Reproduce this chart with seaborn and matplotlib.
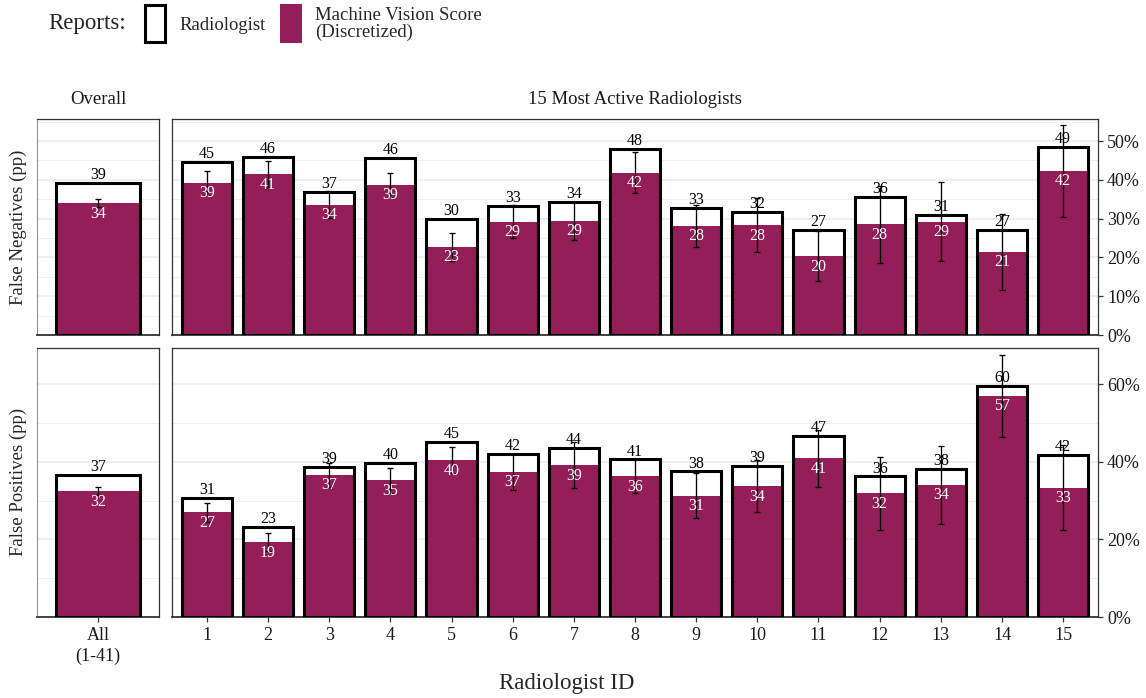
import numpy as np
import pandas as pd
import matplotlib
matplotlib.use("Agg")
import matplotlib.pyplot as plt
import seaborn as sns
from matplotlib.patches import Rectangle
from matplotlib.ticker import MultipleLocator, FuncFormatter

# ---- data (percentage points) ----
radiologist_ids = [str(i) for i in range(1, 16)]
overall_label = ["All\n(1-41)"]

fn_overall_rad = [39.3]
fn_overall_mv = [34.0]
fn_overall_err = [1.0]
fn_rad = [44.7, 46.0, 36.9, 45.6, 29.9, 33.3, 34.3, 47.9, 32.7, 31.7, 27.1, 35.6, 30.9, 27.1, 48.6]
fn_mv = [39.2, 41.4, 33.6, 38.7, 22.7, 29.2, 29.4, 41.9, 28.1, 28.3, 20.3, 28.5, 29.2, 21.4, 42.3]
fn_err = [3.0, 3.5, 3.5, 3.2, 3.5, 4.3, 5.0, 5.2, 5.3, 6.9, 6.4, 10.0, 10.2, 9.8, 11.8]

fp_overall_rad = [36.6]
fp_overall_mv = [32.4]
fp_overall_err = [1.0]
fp_rad = [30.6, 23.1, 38.6, 39.7, 45.2, 41.9, 43.5, 40.6, 37.5, 39.0, 46.6, 36.2, 38.2, 59.6, 41.7]
fp_mv = [27.0, 19.3, 36.6, 35.2, 40.4, 37.4, 39.1, 36.3, 31.2, 33.7, 40.9, 31.9, 34.0, 57.0, 33.3]
fp_err = [2.4, 2.3, 3.0, 3.3, 3.4, 4.7, 5.9, 4.3, 5.8, 6.7, 7.4, 9.4, 10.0, 10.5, 10.9]

PURPLE = "#931E58"
FRAME = "#333333"
GRID = "#EBEBEB"

sns.set_style("white")
plt.rcParams["font.family"] = ["Liberation Serif", "DejaVu Serif"]

W, H = 1146, 698
fig = plt.figure(figsize=(W / 100, H / 100), dpi=100)


def axes_px(left, top, right, bottom):
    return fig.add_axes([left / W, 1 - bottom / H, (right - left) / W, (bottom - top) / H])


def draw_panel(ax, labels, rad, mv, err, ymax, major, minor, right_axis, bottom_ticks, pad):
    df = pd.DataFrame({"rid": labels, "rad": rad, "mv": mv, "err": err})
    kw = dict(data=df, x="rid", order=labels, width=0.82, errorbar=None, ax=ax)
    sns.barplot(y="rad", color="white", linewidth=0, saturation=1, zorder=2, **kw)
    sns.barplot(y="mv", color=PURPLE, linewidth=0, saturation=1, zorder=3, **kw)
    sns.barplot(y="rad", color="black", fill=False, linewidth=2.2, zorder=4, **kw)
    xs = np.arange(len(labels))
    ax.errorbar(xs, df["mv"], yerr=df["err"], fmt="none", ecolor="black",
                elinewidth=0.95, capsize=2.5, capthick=0.95, zorder=5)
    for x, r, m in zip(xs, df["rad"], df["mv"]):
        ax.annotate(f"{r:.0f}", (x, r), xytext=(0, 2.8), textcoords="offset points",
                    ha="center", va="baseline", fontsize=11.5, color="black", zorder=6)
        ax.annotate(f"{m:.0f}", (x, m), xytext=(0, -10.4), textcoords="offset points",
                    ha="center", va="baseline", fontsize=11.5, color="white", zorder=6)

    ax.set_xlim(-pad, len(labels) - 1 + pad)
    ax.set_ylim(0, ymax)
    ax.yaxis.set_major_locator(MultipleLocator(major))
    ax.yaxis.set_minor_locator(MultipleLocator(minor))
    ax.grid(False)
    ax.yaxis.grid(True, which="major", color=GRID, linewidth=1.1, zorder=0)
    ax.yaxis.grid(True, which="minor", color=GRID, linewidth=0.6, zorder=0)
    ax.set_axisbelow(True)
    ax.set_xlabel("")
    ax.set_ylabel("")
    for s in ax.spines.values():
        s.set_visible(True)
        s.set_color(FRAME)
        s.set_linewidth(0.9)
    ax.spines["bottom"].set_linewidth(1.3)

    if right_axis:
        ax.yaxis.tick_right()
        ax.yaxis.set_major_formatter(FuncFormatter(lambda v, p: f"{v:.0f}%"))
        ax.tick_params(axis="y", which="major", right=True, left=False, labelright=True,
                       labelleft=False, length=3.5, width=0.9, color=FRAME, pad=3,
                       labelsize=13, labelcolor="#1a1a1a")
        ax.tick_params(axis="y", which="minor", right=False, left=False)
    else:
        ax.spines["left"].set_color("#8a8a8a")
        ax.spines["left"].set_linewidth(0.7)
        ax.tick_params(axis="y", which="both", left=False, right=False,
                       labelleft=False, labelright=False)

    if bottom_ticks:
        ax.tick_params(axis="x", bottom=True, length=3.5, width=0.9, color=FRAME, pad=4,
                       labelsize=13, labelcolor="#1a1a1a")
        for t in ax.get_xticklabels():
            t.set_linespacing(1.25)
    else:
        ax.tick_params(axis="x", bottom=False, labelbottom=False)


ax_fn_all = axes_px(37, 119, 159, 335)
ax_fn = axes_px(172, 119, 1098, 335)
ax_fp_all = axes_px(37, 348, 159, 617)
ax_fp = axes_px(172, 348, 1098, 617)

draw_panel(ax_fn_all, overall_label, fn_overall_rad, fn_overall_mv, fn_overall_err,
           55.7, 10, 5, False, False, 0.6)
draw_panel(ax_fn, radiologist_ids, fn_rad, fn_mv, fn_err,
           55.7, 10, 5, True, False, 0.57)
draw_panel(ax_fp_all, overall_label, fp_overall_rad, fp_overall_mv, fp_overall_err,
           69.3, 20, 10, False, True, 0.6)
draw_panel(ax_fp, radiologist_ids, fp_rad, fp_mv, fp_err,
           69.3, 20, 10, True, True, 0.57)

# facet strip titles
fig.text(98 / W, 1 - 100 / H, "Overall", ha="center", va="center", fontsize=13.5, color="#1a1a1a")
fig.text(635 / W, 1 - 100 / H, "15 Most Active Radiologists", ha="center", va="center",
         fontsize=13.5, color="#1a1a1a")

# axis titles
fig.text(18 / W, 1 - 227 / H, "False Negatives (pp)", rotation=90, ha="center", va="center",
         fontsize=13.5)
fig.text(18 / W, 1 - 482 / H, "False Positives (pp)", rotation=90, ha="center", va="center",
         fontsize=13.5)
fig.text(567 / W, 1 - 683 / H, "Radiologist ID", ha="center", va="center", fontsize=16.5)

# legend
fig.text(48 / W, 1 - 24 / H, "Reports:", ha="left", va="center", fontsize=16.5)
fig.patches.append(Rectangle((145 / W, 1 - 42 / H), 20 / W, 37 / H, transform=fig.transFigure,
                             facecolor="white", edgecolor="black", linewidth=2.2))
fig.text(179 / W, 1 - 25 / H, "Radiologist", ha="left", va="center", fontsize=13.5)
fig.patches.append(Rectangle((280 / W, 1 - 43 / H), 22 / W, 39 / H, transform=fig.transFigure,
                             facecolor=PURPLE, edgecolor="none"))
fig.text(315 / W, 1 - 24 / H, "Machine Vision Score\n(Discretized)", ha="left", va="center",
         fontsize=13.5, linespacing=1.05)

fig.savefig("out.png", dpi=100, facecolor="white")
